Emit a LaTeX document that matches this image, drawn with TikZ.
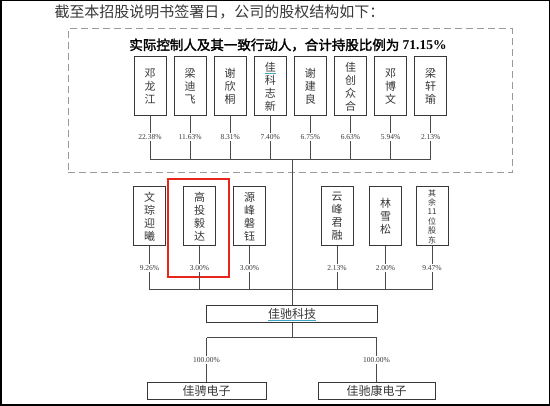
\documentclass[tikz,border=0pt]{standalone}
\usepackage{fontspec}
\setmainfont{Liberation Serif}
\newfontfamily\cjk[AutoFakeBold=2]{Noto Sans CJK SC}
\usetikzlibrary{positioning}
\definecolor{ink}{HTML}{383838}
\definecolor{wire}{HTML}{4A4A4A}
\definecolor{fence}{HTML}{9A9A9A}
\definecolor{alert}{HTML}{E8261C}
\definecolor{link}{HTML}{3AA6C8}
\newcommand\linked[1]{{\color{link}\underline{\color{ink}#1}}}
\tikzset{
  holder/.style={draw=ink,line width=1pt,fill=white,minimum width=32pt,minimum height=59pt,
    inner sep=0pt,align=center,text=ink,font=\cjk\fontsize{11}{13}\selectfont},
  pct/.style={fill=white,inner sep=1.2pt,text=ink,font=\fontsize{7.5}{8}\selectfont},
  bus/.style={wire,line width=1pt},
  firm/.style={draw=ink,line width=1pt,minimum height=17pt,inner sep=0pt,text=ink,
    font=\cjk\fontsize{12}{12}\selectfont},
}

\begin{document}
\begin{tikzpicture}[x=1pt,y=-1pt]
\useasboundingbox (0,0) rectangle (550,406);
\draw[black,line width=1.5pt] (0.75,0.75) rectangle (549.25,405.25);

% ---------------------------------------------------------------- heading
\node[text=ink,font=\cjk\fontsize{15}{15}\selectfont] (title) at (219.5,12)
     {截至本招股说明书签署日，公司的股权结构如下：};

% ---------------------------------------------------------------- controlling group
\node[draw=fence,dashed,dash pattern=on 7pt off 4pt,line width=1pt,
      minimum width=444pt,minimum height=144pt] (group) at (290,101) {};
\node[text=black,font=\fontsize{13.5}{14}\selectfont\bfseries] (head) at (288,45)
     {{\cjk 实际控制人及其一致行动人，合计持股比例为} 71.15\%};

\coordinate (busA) at (292,160);
\coordinate (busB) at (292,290);

\foreach \who/\share [count=\i] in {{邓\\龙\\江}/22.38, {梁\\迪\\飞}/11.63, {谢\\欣\\桐}/8.31,
    {\linked{佳}\\科\\志\\新}/7.40, {谢\\建\\良}/6.75, {佳\\创\\众\\合}/6.63,
    {邓\\博\\文}/5.94, {梁\\轩\\瑜}/2.13}{
  \node[holder] (top\i) at ({150+40.1*(\i-1)},86.5) {\who};
  \draw[bus] (top\i) -- (top\i |- busA);
  \node[pct] (tp\i) at (top\i |- 0,137) {\share\%};
}
\draw[bus] (top1 |- busA) -- (top8 |- busA);

% ---------------------------------------------------------------- other holders
\node[draw=alert,line width=2pt,minimum width=61pt,minimum height=98pt] (focus) at (198.5,228) {};
\foreach \x/\who/\share [count=\i] in {149.5/{文\\琮\\迎\\曦}/9.26, 199.5/{高\\投\\毅\\达}/3.00,
    249.5/{源\\峰\\磐\\钰}/3.00, 337/{云\\峰\\君\\融}/2.13, 385.5/{林\\雪\\松}/2.00}{
  \node[holder] (mid\i) at (\x,216.5) {\who};
  \draw[bus] (mid\i) -- (mid\i |- busB);
  \node[pct] (mp\i) at (mid\i |- 0,268) {\share\%};
}
\node[holder,font=\cjk\fontsize{8}{9.4}\selectfont] (mid6) at (432,216.5) {其\\余\\11\\位\\股\\东};
\draw[bus] (mid6) -- (mid6 |- busB);
\node[pct] (mp6) at (mid6 |- 0,268) {9.47\%};
\draw[bus] (mid1 |- busB) -- (mid6 |- busB);

% ---------------------------------------------------------------- company
\node[firm,minimum width=171pt] (hub) at (292,314.5) {\linked{佳驰科技}};
\draw[bus] (busA) -- (hub);

\node[firm,minimum width=119pt] (kid1) at (206.5,391) {佳骋电子};
\node[firm,minimum width=117pt] (kid2) at (376.5,391) {佳驰康电子};
\coordinate (fork) at (292,338);
\draw[bus] (hub) -- (fork);
\draw[bus] (kid1 |- fork) -- (kid2 |- fork);
\draw[bus] (kid1 |- fork) -- (kid1);
\draw[bus] (kid2 |- fork) -- (kid2);
\node[pct] (kp1) at (kid1 |- 0,360) {100.00\%};
\node[pct] (kp2) at (kid2 |- 0,360) {100.00\%};

\end{tikzpicture}
\end{document}
